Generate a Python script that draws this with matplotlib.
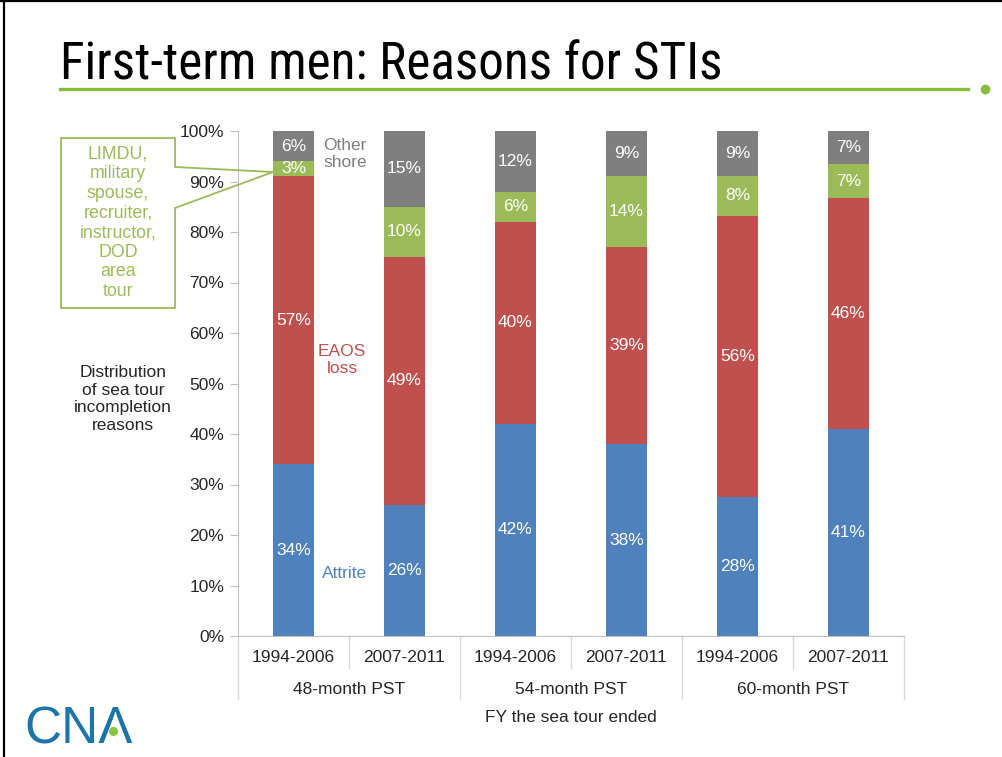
import matplotlib
matplotlib.use("Agg")
import matplotlib.pyplot as plt
from matplotlib import font_manager
from matplotlib.patches import Polygon
from matplotlib.lines import Line2D
import numpy as np

# data (percent of sea tour incompletions)
periods = ["1994-2006", "2007-2011"] * 3
groups = ["48-month PST", "54-month PST", "60-month PST"]
attrite = [34, 26, 42, 38, 27.6, 41.0]
eaos_loss = [57, 49, 40, 39, 55.6, 45.7]
limdu = [3, 10, 6, 14, 7.9, 6.7]
other_shore = [6, 15, 12, 9, 8.9, 6.6]

blue = "#4f81bd"
red = "#c0504d"
green = "#9bbb59"
gray = "#7f7f7f"
txt = "#262626"

plt.rcParams['font.family'] = ['Liberation Sans', 'DejaVu Sans']

# title in a narrow face if there is one
installed = {f.name for f in font_manager.fontManager.ttflist}
title_font, title_size = 'Liberation Sans', 32.5
for name, size in [('Liberation Sans Narrow', 40), ('Roboto Condensed', 36.8),
                   ('Open Sans Condensed', 37)]:
    if name in installed:
        title_font, title_size = name, size
        break

W, H = 1003, 757
fig = plt.figure(figsize=(W / 100, H / 100), dpi=100)

def fx(px):
    return px / W

def fy(py):
    return 1 - py / H

# slide frame
fig.add_artist(Line2D([fx(4), fx(4)], [0, 1], color="black", lw=1.6))
fig.add_artist(Line2D([0, 1], [fy(1), fy(1)], color="black", lw=1.6))

# title + green rule
fig.text(fx(60), fy(80), "First-term men: Reasons for STIs", fontsize=title_size,
         family=[title_font, 'Liberation Sans'], color="black",
         ha="left", va="baseline")
fig.add_artist(Line2D([fx(60), fx(968)], [fy(89), fy(89)], color="#86bc40", lw=2.4))
fig.add_artist(Line2D([fx(985)], [fy(89)], marker="o", markersize=6,
                      color="#86bc40", lw=0))

# chart
ax = fig.add_axes([fx(238), fy(636), fx(904) - fx(238), (636 - 131) / H])
x = np.arange(len(periods))
bw = 0.37
series = [(attrite, blue), (eaos_loss, red), (limdu, green), (other_shore, gray)]
bottom = np.zeros(len(periods))
for vals, col in series:
    vals = np.array(vals, dtype=float)
    ax.bar(x, vals, bw, bottom=bottom, color=col, edgecolor="none")
    for xi, b, v in zip(x, bottom, vals):
        ax.text(xi, b + v / 2, f"{round(v)}%", ha="center", va="center",
                color="white", fontsize=12.5)
    bottom = bottom + vals

ax.set_xlim(-0.5, len(periods) - 0.5)
ax.set_ylim(0, 100)
ax.set_yticks(np.arange(0, 101, 10))
ax.set_yticklabels([f"{t}%" for t in range(0, 101, 10)], fontsize=12.5, color=txt)
ax.tick_params(axis="y", length=6, color="#bfbfbf", pad=4)
ax.set_xticks([])
for s in ["top", "right"]:
    ax.spines[s].set_visible(False)
ax.spines["left"].set_color("#bfbfbf")
ax.spines["bottom"].set_color("#bfbfbf")

# category axis (two levels)
trans = ax.get_xaxis_transform()
ah = 636 - 131

def ay(py):
    return (636 - py) / ah

for xi, p in zip(x, periods):
    ax.text(xi, ay(657), p, transform=trans, ha="center", va="center",
            fontsize=12.5, color=txt, clip_on=False)
for gi, g in enumerate(groups):
    ax.text(2 * gi + 0.5, ay(690), g, transform=trans, ha="center", va="center",
            fontsize=12.5, color=txt, clip_on=False)
    ax.add_line(Line2D([2 * gi + 0.5] * 2, [0, ay(668)], transform=trans,
                       color="#d9d9d9", lw=1, clip_on=False))
for xb in [-0.5, 1.5, 3.5, 5.5]:
    ax.add_line(Line2D([xb, xb], [0, ay(699)], transform=trans,
                       color="#d9d9d9", lw=1, clip_on=False))
ax.text(2.5, ay(717), "FY the sea tour ended", transform=trans, ha="center",
        va="center", fontsize=12.5, color=txt, clip_on=False)

# series annotations
fig.text(fx(323), fy(154), "Other\nshore", color=gray, fontsize=12.5,
         ha="left", va="center", linespacing=1.15)
fig.text(fx(342), fy(360), "EAOS\nloss", color=red, fontsize=12.5,
         ha="center", va="center", linespacing=1.15)
fig.text(fx(345), fy(574), "Attrite", color=blue, fontsize=12.5,
         ha="center", va="center")
fig.text(fx(123), fy(399), "Distribution\nof sea tour\nincompletion\nreasons",
         color=txt, fontsize=12.5, ha="center", va="center", linespacing=1.22)

# callout for LIMDU segment (outline only, the tick labels show through)
pts = [(61, 138), (175, 138), (175, 167), (273, 172), (175, 208),
       (175, 308), (61, 308)]
fig.add_artist(Polygon([(fx(a), fy(b)) for a, b in pts], closed=True,
                       facecolor="none", edgecolor=green, lw=1.3))
fig.text(fx(118), fy(223),
         "LIMDU,\nmilitary\nspouse,\nrecruiter,\ninstructor,\nDOD\narea\ntour",
         color=green, fontsize=12.8, ha="center", va="center", linespacing=1.2)

# CNA logo
fig.text(fx(24), fy(744), "CN\u039b", color="#1b75a8", fontsize=37, ha="left",
         va="baseline")
fig.add_artist(Line2D([fx(113)], [fy(731)], marker="o", markersize=5.5,
                      color="#8cc63f", lw=0))

fig.savefig("out.png", dpi=100)
